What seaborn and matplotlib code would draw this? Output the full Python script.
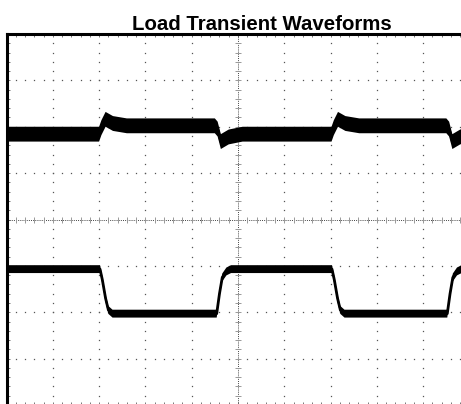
"""Oscilloscope-style load transient plot (output voltage + load current)."""
import numpy as np
import matplotlib
matplotlib.use("Agg")
import matplotlib.pyplot as plt
import seaborn as sns

# time axis in scope divisions (10 across), amplitudes in divisions (-4..4)
vout_t = [0.0, 2.0, 2.05, 2.14, 2.3, 2.6, 4.5, 4.56, 4.63, 4.8, 5.1,
          7.02, 7.07, 7.16, 7.32, 7.62, 9.5, 9.56, 9.63, 9.8, 10.0]
vout_v = [1.84, 1.84, 1.98, 2.16, 2.07, 2.02, 2.02, 1.95, 1.68, 1.78, 1.84,
          1.84, 1.98, 2.16, 2.07, 2.02, 2.02, 1.95, 1.68, 1.78, 1.84]

iload_t = [0.0, 2.02, 2.07, 2.14, 2.2, 2.29, 4.54, 4.6, 4.66, 4.75, 4.85,
           7.03, 7.08, 7.15, 7.21, 7.3, 9.52, 9.58, 9.64, 9.73, 9.83, 10.0]
iload_v = [-1.07, -1.07, -1.3, -1.7, -1.95, -2.03, -2.03, -1.6, -1.25, -1.12, -1.07,
           -1.07, -1.3, -1.7, -1.95, -2.03, -2.03, -1.6, -1.25, -1.12, -1.07, -1.07]

title = "Load Transient Waveforms"

sns.set_style("white")
plt.rcParams["font.family"] = ["Liberation Sans", "DejaVu Sans"]

fig = plt.figure(figsize=(4.61, 4.04), dpi=100)
ax = fig.add_axes([6.5 / 461, -1 / 404, 463 / 461, 371 / 404])
ax.set_xlim(0, 10)
ax.set_ylim(-4, 4)

# dotted graticule: dots at the minor positions along each major line
minor = np.arange(0, 10.01, 0.2)
minor_y = np.arange(-4, 4.01, 0.2)
for gx in range(1, 10):
    if gx == 5:
        continue
    ax.plot(np.full_like(minor_y, gx), minor_y, ls="none", marker="s",
            ms=0.9, mew=0, color="#555555", zorder=1)
for gy in range(-3, 4):
    if gy == 0:
        continue
    ax.plot(minor, np.full_like(minor, gy), ls="none", marker="s",
            ms=0.9, mew=0, color="#555555", zorder=1)

# centre cross with its small tick marks
ax.axvline(5, ls=(0, (1, 1.2)), lw=0.7, color="#444444", zorder=1)
ax.axhline(0, ls=(0, (1, 1.2)), lw=0.7, color="#444444", zorder=1)
ax.plot(np.full_like(minor_y, 5), minor_y, ls="none", marker="_", ms=4.0,
        mew=0.7, color="#999999", zorder=1)
ax.plot(minor, np.zeros_like(minor), ls="none", marker="|", ms=4.0,
        mew=0.7, color="#999999", zorder=1)

# traces: noise band drawn as a vertical envelope, plus the centre line
vout_v = np.array(vout_v)
iload_v = np.array(iload_v)
ax.fill_between(vout_t, vout_v - 0.16, vout_v + 0.16, color="black", lw=0, zorder=3)
ax.fill_between(iload_t, iload_v - 0.085, iload_v + 0.085, color="black", lw=0, zorder=3)
sns.lineplot(x=vout_t, y=vout_v, ax=ax, color="black", lw=2.0, zorder=3)
sns.lineplot(x=iload_t, y=iload_v, ax=ax, color="black", lw=2.0, zorder=3)

# frame and edge ticks
ax.set_xticks(np.arange(0, 11, 1))
ax.set_yticks(np.arange(-4, 5, 1))
ax.set_xticks(minor, minor=True)
ax.set_yticks(minor_y, minor=True)
ax.tick_params(which="both", direction="in", length=2.2, width=0.7,
               color="#777777", top=True, bottom=True, left=True, right=False,
               labelbottom=False, labelleft=False)
for side in ["right", "bottom"]:
    ax.spines[side].set_visible(False)
for side in ["left", "top"]:
    ax.spines[side].set_linewidth(2.2)
    ax.spines[side].set_color("black")
ax.set_xlabel("")
ax.set_ylabel("")

fig.text(261.5 / 461, 1 - 30 / 404, title, ha="center", va="baseline",
         fontsize=14.7, fontweight="bold", color="black")

fig.savefig("out.png", dpi=100)
